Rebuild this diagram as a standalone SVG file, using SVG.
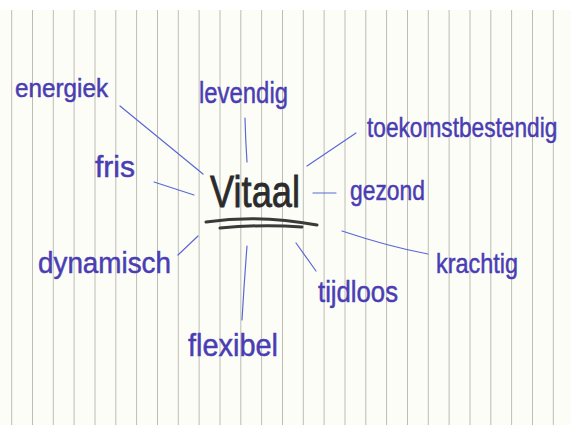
<svg xmlns="http://www.w3.org/2000/svg" width="571" height="425" viewBox="0 0 571 425">
<style>
.rule{stroke:#bdbdb4;stroke-width:1}
.lbl{font-family:"Liberation Sans",Arial,sans-serif;fill:#4a3db3;stroke:#4a3db3;stroke-width:0.5}
.con{fill:none;stroke:#5b68d6;stroke-width:1.2;stroke-linecap:round}
.ctr{font-family:"Liberation Sans",Arial,sans-serif;fill:#2b2b2b;stroke:#2b2b2b;stroke-width:0.8}
.ul{fill:none;stroke:#3a3a38;stroke-width:3;stroke-linecap:round}
</style>
<rect width="571" height="425" fill="#fdfdf8"/>
<rect width="571" height="10" fill="#ffffff"/>
<g id="paper-lines">
<path class="rule" d="M11.7 10V425M32.5 10V425M53.3 10V425M74.1 10V425M95 10V425M115.8 10V425M136.6 10V425M157.5 10V425M178.3 10V425M199.1 10V425M220 10V425M240.8 10V425M261.6 10V425M282.5 10V425M303.3 10V425M324.1 10V425M345 10V425M365.8 10V425M386.6 10V425M407.5 10V425M428.3 10V425M449.1 10V425M470 10V425M490.8 10V425M511.6 10V425M532.5 10V425M553.3 10V425"/>
</g>
<g id="connectors">
<path class="con" d="M120 106L203 174"/>
<path class="con" d="M245 118Q245.5 140 247 162"/>
<path class="con" d="M154 182L194 195"/>
<path class="con" d="M356 133L307 166"/>
<path class="con" d="M313 193L336 193"/>
<path class="con" d="M178 255L198 236"/>
<path class="con" d="M247 246Q244 285 242 320"/>
<path class="con" d="M296 243L316 271"/>
<path class="con" d="M342 231Q390 247 428 254"/>
</g>
<g id="vitaal">
<text class="ctr" x="210" y="207" font-size="44" textLength="90" lengthAdjust="spacingAndGlyphs">Vitaal</text>
<path class="ul" d="M206 222Q260 214 317 225"/>
<path class="ul" d="M220 228Q262 224 302 227"/>
</g>
<g id="energiek"><text class="lbl" x="15" y="97" font-size="26" textLength="93" lengthAdjust="spacingAndGlyphs">energiek</text></g>
<g id="levendig"><text class="lbl" x="199" y="103" font-size="30" textLength="89" lengthAdjust="spacingAndGlyphs">levendig</text></g>
<g id="fris"><text class="lbl" x="95" y="177" font-size="30" textLength="40" lengthAdjust="spacingAndGlyphs">fris</text></g>
<g id="toekomstbestendig"><text class="lbl" transform="translate(367 137) scale(0.81 1)" x="0" y="0" font-size="28">toekomstbestendig</text></g>
<g id="gezond"><text class="lbl" x="350" y="200" font-size="28" textLength="75" lengthAdjust="spacingAndGlyphs">gezond</text></g>
<g id="dynamisch"><text class="lbl" x="38" y="273" font-size="30" textLength="133" lengthAdjust="spacingAndGlyphs">dynamisch</text></g>
<g id="flexibel"><text class="lbl" x="188" y="356" font-size="32" textLength="90" lengthAdjust="spacingAndGlyphs">flexibel</text></g>
<g id="tijdloos"><text class="lbl" x="318" y="302" font-size="30" textLength="80" lengthAdjust="spacingAndGlyphs">tijdloos</text></g>
<g id="krachtig"><text class="lbl" x="436" y="273" font-size="28" textLength="82" lengthAdjust="spacingAndGlyphs">krachtig</text></g>
</svg>
